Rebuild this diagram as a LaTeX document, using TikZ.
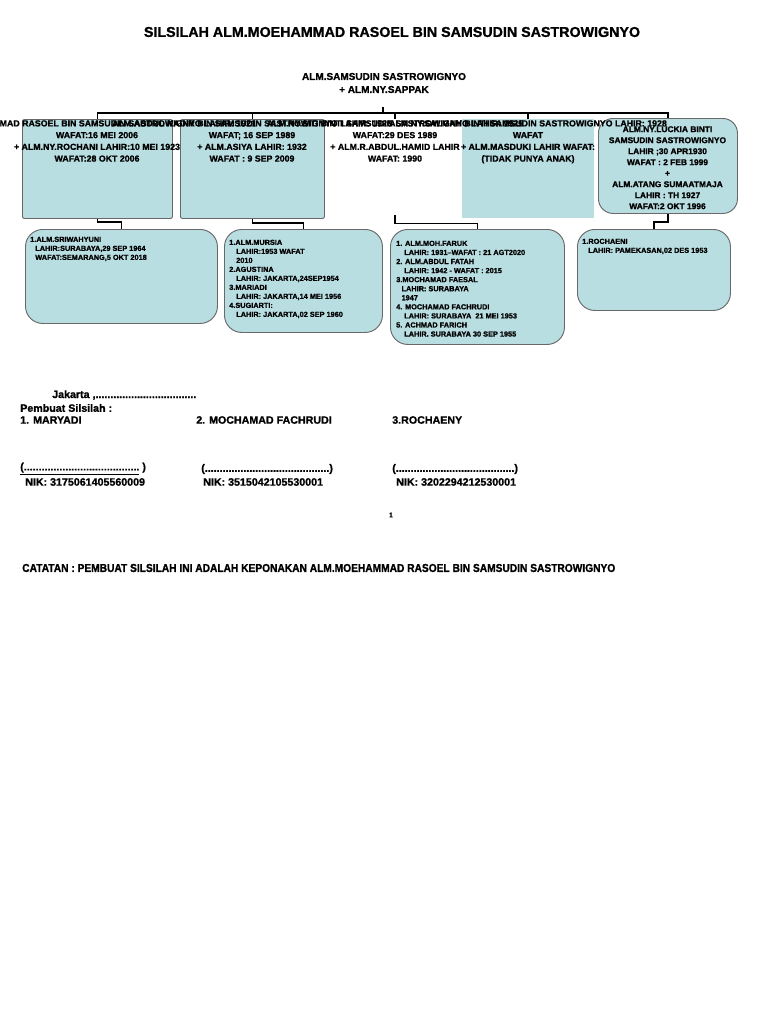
\documentclass[tikz,border=0pt]{standalone}
\usepackage{fontspec}
\setmainfont{Liberation Sans}[BoldFeatures={FakeBold=1.2}]
\definecolor{boxblue}{RGB}{184,222,226}
\definecolor{boxedge}{RGB}{105,105,105}
\begin{document}
\begin{tikzpicture}[x=0.75pt,y=-0.75pt,
  conn/.style={draw=black,line width=1.3pt},
  sqbox/.style={draw=boxedge,fill=boxblue,line width=0.7pt,rounded corners=1.5pt,inner sep=0,anchor=north west},
  plainbox/.style={fill=boxblue,inner sep=0,anchor=north west},
  roundbox/.style={draw=boxedge,fill=boxblue,line width=0.7pt,rounded corners=11pt,inner sep=0,anchor=north west},
  kidbox/.style={draw=boxedge,fill=boxblue,line width=0.7pt,rounded corners=13pt,inner sep=0,anchor=north west},
  ghost/.style={inner sep=0,anchor=north west},
  coltext/.style={font=\fontsize{6.6pt}{8.8pt}\selectfont\bfseries,align=center,inner sep=0,anchor=north},
  coltextb/.style={font=\fontsize{6.3pt}{8.25pt}\selectfont\bfseries,align=center,inner sep=0,anchor=north},
  kidtext/.style={font=\fontsize{5.5pt}{6.75pt}\selectfont\bfseries,align=left,inner sep=0,anchor=north west},
  foot/.style={font=\fontsize{8pt}{9.6pt}\selectfont\bfseries,inner sep=0,anchor=west}
]
\useasboundingbox (0,0) rectangle (768,1024);
\fill[white] (0,0) rectangle (768,1024);

% title
\node[font=\fontsize{10.7pt}{12pt}\selectfont\bfseries,inner sep=0] (title) at (392,32) {SILSILAH ALM.MOEHAMMAD RASOEL BIN SAMSUDIN SASTROWIGNYO};

% root
\node[font=\fontsize{7.5pt}{9.75pt}\selectfont\bfseries,align=center,inner sep=0] (root) at (384,83) {ALM.SAMSUDIN SASTROWIGNYO\\+ ALM.NY.SAPPAK};
\coordinate (rootstub) at (383,107);
\coordinate (bus) at (383,113);

% top row boxes
\node[sqbox,minimum width=112.5pt,minimum height=74.25pt] (b1) at (22,119) {};
\node[sqbox,minimum width=108pt,minimum height=74.25pt] (b2) at (180,119) {};
\node[ghost,minimum width=97.5pt,minimum height=71.25pt] (b3) at (330,119) {};
\node[plainbox,minimum width=99pt,minimum height=74.25pt] (b4) at (462,119) {};
\node[roundbox,minimum width=104.25pt,minimum height=71.25pt] (b5) at (598,118) {};

% children boxes
\node[kidbox,minimum width=144pt,minimum height=70.5pt] (c1) at (25,229) {};
\node[kidbox,minimum width=118.5pt,minimum height=77.25pt] (c2) at (224,229) {};
\node[kidbox,minimum width=130.5pt,minimum height=86.25pt] (c3) at (390,229) {};
\node[kidbox,minimum width=114.75pt,minimum height=60.75pt] (c4) at (577,229) {};

% connectors
\draw[conn] (rootstub) -- (bus);
\draw[conn] (b1.north) -- ++(0,-6) -| (b5.north);
\draw[conn] (b2.north) -- (b2.north |- bus);
\draw[conn] (b3.north) -- (b3.north |- bus);
\draw[conn] (b4.north) -- (b4.north |- bus);
\draw[conn] (b1.south) -- ++(0,3) -| (c1.north);
\draw[conn] (b2.south) -- ++(0,4) -| (c2.north);
\draw[conn] (b3.south) -- ++(0,9) -| (c3.north);
\draw[conn] (b5.south) -- ++(0,8) -| (c4.north);

% top row texts
\node[coltext] (t1) at (97,120) {ALM.MOEHAMMAD RASOEL BIN SAMSUDIN SASTROWIGNYO LAHIR: 1921\\WAFAT:16 MEI 2006\\+ ALM.NY.ROCHANI LAHIR:10 MEI 1923\\WAFAT:28 OKT 2006};
\node[coltext] (t2) at (252,120) {ALM.ABDUL KADIR BIN SAMSUDIN SASTROWIGNYO LAHIR: 1926\\WAFAT; 16 SEP 1989\\+ ALM.ASIYA LAHIR: 1932\\WAFAT : 9 SEP 2009};
\node[coltext] (t3) at (395,120) {ALM.NY.SITI BINTI SAMSUDIN SASTROWIGNYO LAHIR: 1925\\WAFAT:29 DES 1989\\+ ALM.R.ABDUL.HAMID LAHIR\\WAFAT: 1990};
\node[coltext] (t4) at (528,120) {ALM.NY.SALMAH BINTI SAMSUDIN SASTROWIGNYO LAHIR: 1928\\WAFAT\\+ ALM.MASDUKI LAHIR WAFAT:\\(TIDAK PUNYA ANAK)};
\node[coltextb] (t5) at (667.5,126) {ALM.NY.LUCKIA BINTI\\SAMSUDIN SASTROWIGNYO\\LAHIR ;30 APR1930\\WAFAT : 2 FEB 1999\\+\\ALM.ATANG SUMAATMAJA\\LAHIR : TH 1927\\WAFAT:2 OKT 1996};

% children texts
\node[kidtext] (k1) at (30,236.5) {1.ALM.SRIWAHYUNI\\\hspace*{3.75pt}LAHIR:SURABAYA,29 SEP 1964\\\hspace*{3.75pt}WAFAT:SEMARANG,5 OKT 2018};
\node[kidtext] (k2) at (229,239.5) {1.ALM.MURSIA\\\hspace*{5.25pt}LAHIR:1953 WAFAT\\\hspace*{5.25pt}2010\\2.AGUSTINA\\\hspace*{5.25pt}LAHIR: JAKARTA,24SEP1954\\3.MARIADI\\\hspace*{5.25pt}LAHIR: JAKARTA,14 MEI 1956\\4.SUGIARTI:\\\hspace*{5.25pt}LAHIR: JAKARTA,02 SEP 1960};
\node[kidtext,font=\fontsize{5.5pt}{6.8pt}\selectfont\bfseries] (k3) at (396,240.5) {1. ALM.MOH.FARUK\\\hspace*{6pt}LAHIR: 1931--WAFAT : 21 AGT2020\\2. ALM.ABDUL FATAH\\\hspace*{6pt}LAHIR: 1942 - WAFAT : 2015\\3.MOCHAMAD FAESAL\\\hspace*{4pt}LAHIR: SURABAYA\\\hspace*{4pt}1947\\4. MOCHAMAD FACHRUDI\\\hspace*{6pt}LAHIR: SURABAYA\ \ 21 MEI 1953\\5. ACHMAD FARICH\\\hspace*{6pt}LAHIR. SURABAYA 30 SEP 1955};
\node[kidtext] (k4) at (582,238.5) {1.ROCHAENI\\\hspace*{4.5pt}LAHIR: PAMEKASAN,02 DES 1953};

% signature block
\node[foot] (jak) at (52,395) {Jakarta ,..................................};
\node[foot] (pemb) at (20,408) {Pembuat Silsilah :};
\node[foot] (s1) at (20,420) {1. MARYADI};
\node[foot] (s2) at (196,420) {2. MOCHAMAD FACHRUDI};
\node[foot] (s3) at (392,420) {3.ROCHAENY};
\node[foot] (p1) at (20,469) {\underline{(.......................................} )};
\node[foot] (p2) at (201,469) {(..........................................)};
\node[foot] (p3) at (392,469) {(........................................)};
\node[foot] (n1) at (25,482) {NIK: 3175061405560009};
\node[foot] (n2) at (203,482) {NIK: 3515042105530001};
\node[foot] (n3) at (396,482) {NIK: 3202294212530001};

\node[font=\fontsize{5pt}{6pt}\selectfont\bfseries,inner sep=0] (pg) at (391,515) {1};

\node[inner sep=0,anchor=west] (note) at (22,568) {\resizebox{444.75pt}{6pt}{\bfseries CATATAN : PEMBUAT SILSILAH INI ADALAH KEPONAKAN ALM.MOEHAMMAD RASOEL BIN SAMSUDIN SASTROWIGNYO}};
\end{tikzpicture}
\end{document}
